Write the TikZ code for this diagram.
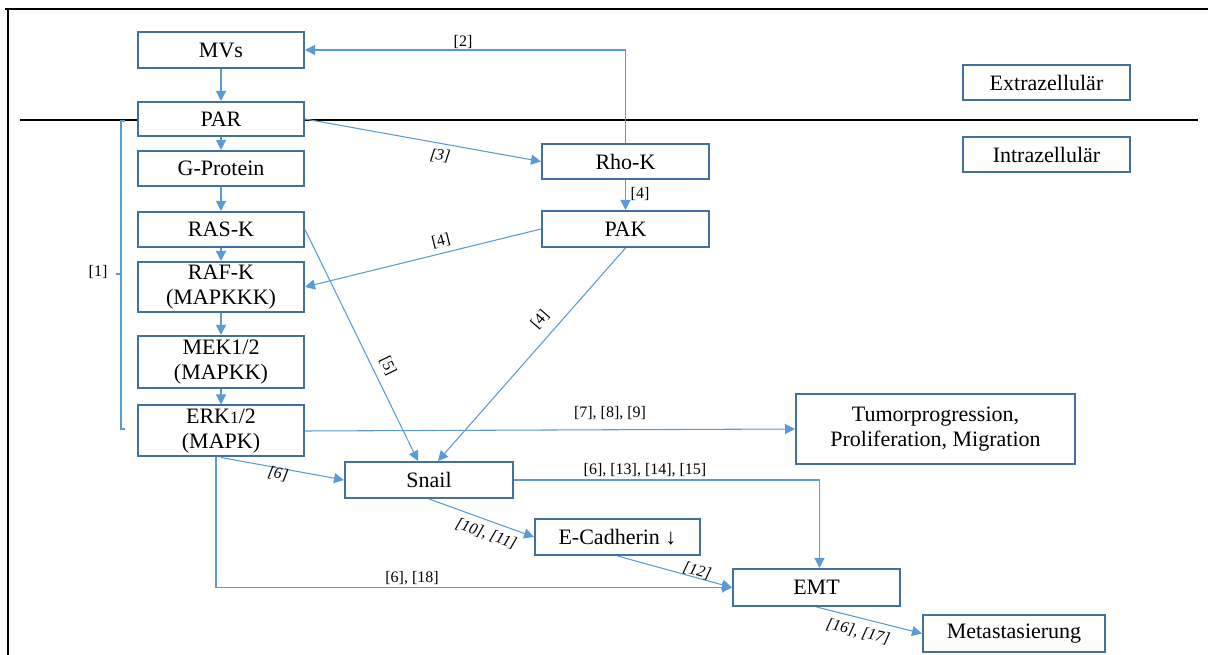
\documentclass[tikz,border=0pt]{standalone}
\usepackage{fontspec}
\setmainfont{Liberation Serif}
\usetikzlibrary{arrows.meta,calc}
\definecolor{boxc}{HTML}{41719C}
\definecolor{arrc}{HTML}{5B9BD5}
\begin{document}
\begin{tikzpicture}[x=0.75pt,y=-0.75pt,
  box/.style={draw=boxc,line width=1.5pt,fill=white,inner sep=0pt,align=center,
    font=\fontsize{16.5}{19}\selectfont},
  conn/.style={draw=arrc,line width=0.8pt,-{Triangle[length=7.5pt,width=7.5pt]}},
  plain/.style={draw=arrc,line width=0.8pt},
  lab/.style={font=\fontsize{12}{12}\selectfont,inner sep=1pt},
  ilab/.style={font=\fontsize{12}{12}\selectfont\itshape,inner sep=1pt}]
\useasboundingbox (0,0) rectangle (1208,655);
% frame and membrane
\draw[line width=2pt] (5,9) -- (1208,9);
\draw[line width=2pt] (8,9) -- (8,655);
\draw[line width=2pt] (20,120) -- (1198,120);
% bracket [1]
\draw[plain] (125,121) -- (121,121) -- (121,429) -- (125,429);
\draw[plain] (121,274) -- (116,274);
\node[lab] (l1) at (98,272) {[1]};
% nodes
\node[box,minimum width=124.5pt,minimum height=27pt] (mvs) at (221,50) {MVs};
\node[box,minimum width=124.5pt,minimum height=25.5pt] (par) at (221,119) {PAR};
\node[box,minimum width=124.5pt,minimum height=26.25pt] (gp) at (221,168.5) {G-Protein};
\node[box,minimum width=124.5pt,minimum height=26.25pt] (ras) at (221,229.5) {RAS-K};
\node[box,minimum width=124.5pt,minimum height=37.5pt] (raf) at (221,287) {RAF-K\\(MAPKKK)};
\node[box,minimum width=124.5pt,minimum height=39pt] (mek) at (221,362) {MEK1/2\\(MAPKK)};
\node[box,minimum width=124.5pt,minimum height=38.25pt] (erk) at (221,431) {ERK{\fontsize{13}{13}\selectfont 1}/2\\(MAPK)};
\node[box,minimum width=125.25pt,minimum height=26.25pt] (rho) at (625.5,161.5) {Rho-K};
\node[box,minimum width=125.25pt,minimum height=27pt] (pak) at (625.5,229) {PAK};
\node[box,minimum width=125.25pt,minimum height=26.25pt] (extra) at (1046.5,82.5) {Extrazellulär};
\node[box,minimum width=125.25pt,minimum height=26.25pt] (intra) at (1046.5,154.5) {Intrazellulär};
\node[box,minimum width=209.25pt,minimum height=52.5pt] (tumor) at (935.5,429) {Tumorprogression,\\Proliferation, Migration};
\node[box,minimum width=126pt,minimum height=27pt] (snail) at (429,480) {Snail};
\node[box,minimum width=123.75pt,minimum height=27pt] (ecad) at (617.5,537) {E-Cadherin ↓};
\node[box,minimum width=125.25pt,minimum height=27.75pt] (emt) at (816.5,587.5) {EMT};
\node[box,minimum width=136.5pt,minimum height=27.75pt] (meta) at (1014,633.5) {Metastasierung};
% connectors
\draw[conn] (mvs) -- (par);
\draw[conn] (par) -- (gp);
\draw[conn] (gp) -- (ras);
\draw[conn] (ras) -- (raf);
\draw[conn] (raf) -- (mek);
\draw[conn] (mek) -- (erk);
\draw[conn] (rho.north) |- (mvs.east);
\draw[conn] (par.east) -- (rho.west);
\draw[conn] (rho) -- (pak);
\draw[conn] (pak.west) -- (raf.east);
\draw[conn] (pak.south) -- ($(snail.north)+(9,0)$);
\draw[conn] (ras.east) -- ($(snail.north)+(-11,0)$);
\draw[conn] (erk.east) -- (tumor.west);
\draw[conn] (erk.south) -- (snail.west);
\draw[conn] (snail.east) -| ($(emt.north)+(3,0)$);
\draw[conn] (snail.south) -- (ecad.west);
\draw[conn] (ecad.south) -- (emt.west);
\draw[conn] ($(erk.south)+(-5,0)$) |- (emt.west);
\draw[conn] (emt.south) -- (meta.west);
% labels
\node[lab] (l2) at (463,42) {[2]};
\node[ilab,rotate=-8] (l3) at (440,156) {[3]};
\node[lab] (l4a) at (640,194) {[4]};
\node[lab,rotate=14] (l4b) at (441,241) {[4]};
\node[lab,rotate=49] (l4c) at (540,320) {[4]};
\node[lab,rotate=-64] (l5) at (388,366) {[5]};
\node[lab] (l789) at (610,413) {[7], [8], [9]};
\node[lab] (l6131415) at (645,470) {[6], [13], [14], [15]};
\node[ilab,rotate=-11] (l6) at (278,474) {[6]};
\node[ilab,rotate=-20] (l1011) at (486,534) {[10], [11]};
\node[ilab,rotate=-15] (l12) at (697,571) {[12]};
\node[lab] (l618) at (412,578) {[6], [18]};
\node[ilab,rotate=-14] (l1617) at (858,632) {[16], [17]};
\end{tikzpicture}
\end{document}
